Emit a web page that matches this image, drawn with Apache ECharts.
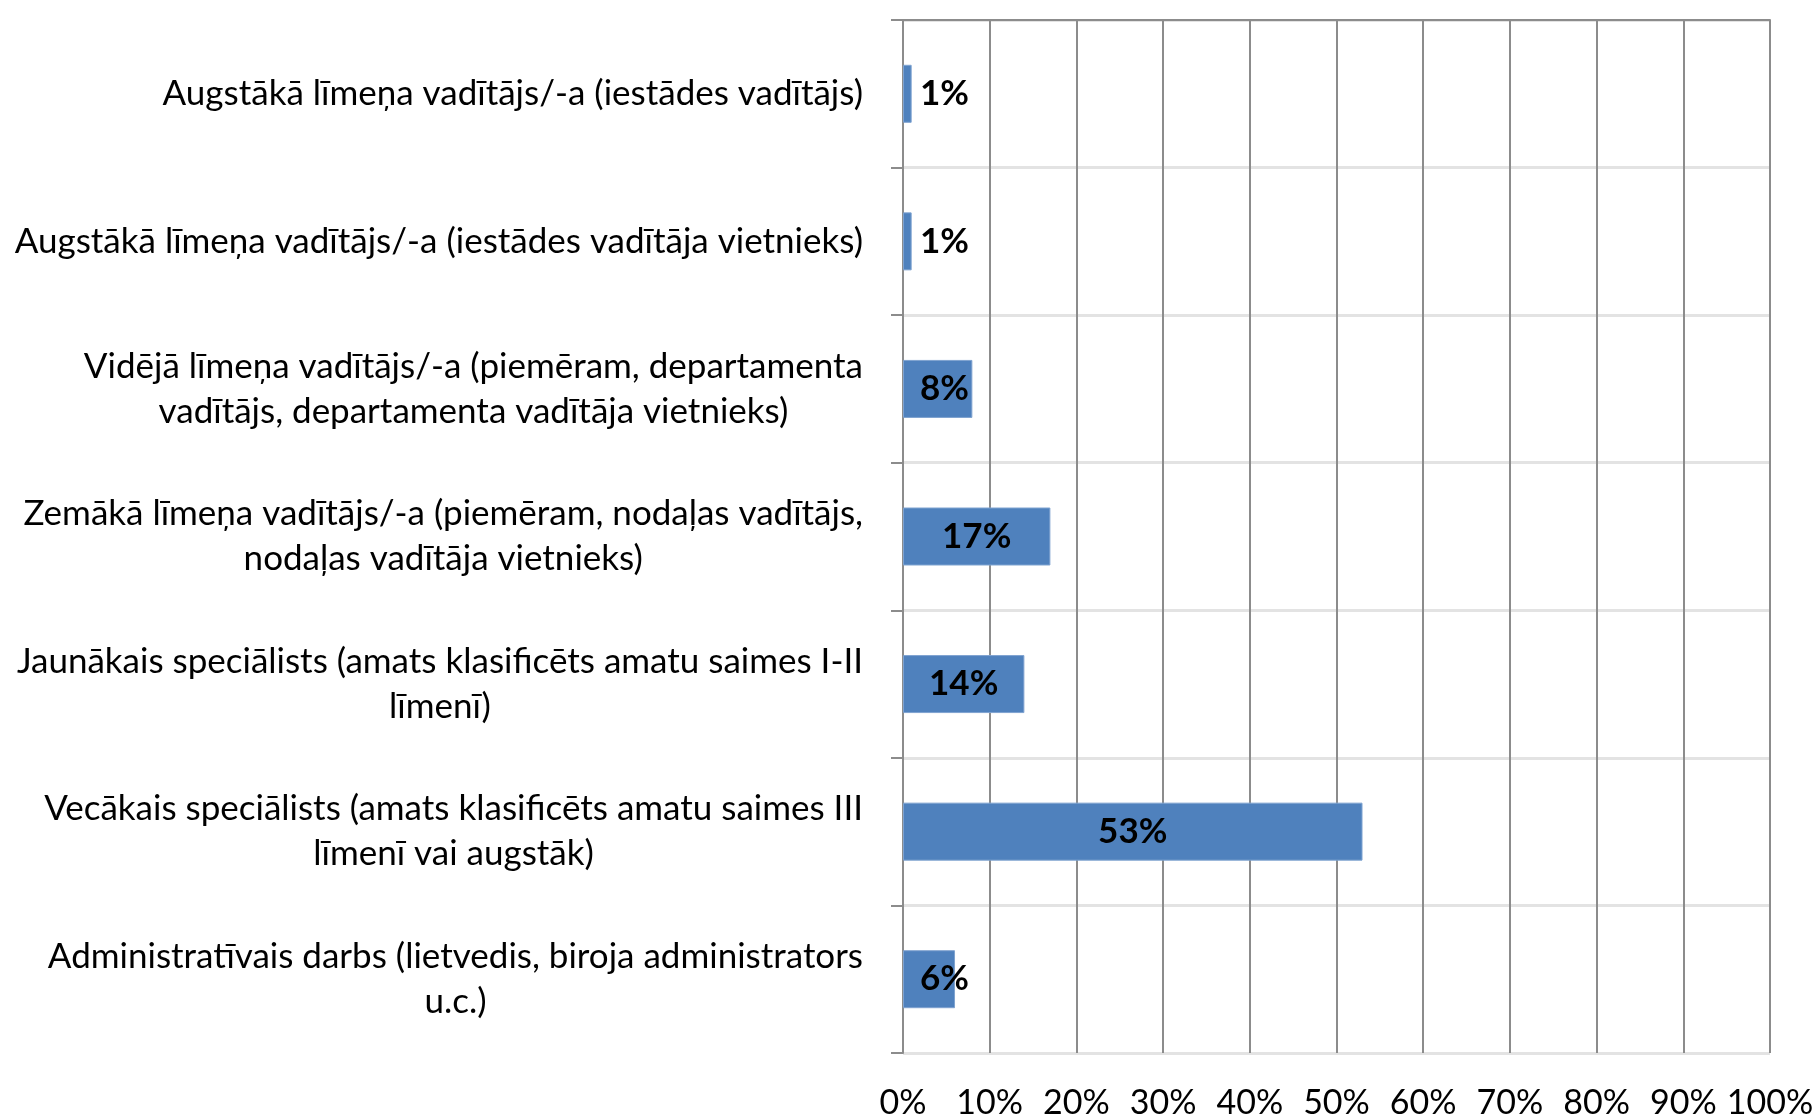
<!DOCTYPE html>
<html>
<head>
<meta charset="utf-8">
<script src="https://cdn.jsdelivr.net/npm/echarts@6/dist/echarts.min.js"></script>
<style>
  html, body { margin: 0; padding: 0; background: #fff; }
  #chart { width: 1818px; height: 1115px; }
</style>
</head>
<body>
<div id="chart"></div>
<script>
// amatu grupas (no augšas uz leju)
const categories = [
  'Augstākā līmeņa vadītājs/-a (iestādes vadītājs)',
  'Augstākā līmeņa vadītājs/-a (iestādes vadītāja vietnieks)',
  'Vidējā līmeņa vadītājs/-a (piemēram, departamenta\nvadītājs, departamenta vadītāja vietnieks)',
  'Zemākā līmeņa vadītājs/-a (piemēram, nodaļas vadītājs,\nnodaļas vadītāja vietnieks)',
  'Jaunākais speciālists (amats klasificēts amatu saimes I-II\nlīmenī)',
  'Vecākais speciālists (amats klasificēts amatu saimes III\nlīmenī vai augstāk)',
  'Administratīvais darbs (lietvedis, biroja administrators\nu.c.)'
]
const values = [1, 1, 8, 17, 14, 53, 6] // %
const xTicks = [0, 10, 20, 30, 40, 50, 60, 70, 80, 90, 100]

const FONT = 'Lato'
const chart = echarts.init(document.getElementById('chart'))

const option = {
  animation: false,
  grid: {
    left: 903,
    right: 48,
    top: 20,
    bottom: 62,
    containLabel: false,
    outerBoundsMode: 'none'
  },
  xAxis: [
    {
      type: 'value',
      min: xTicks[0],
      max: xTicks[xTicks.length - 1],
      interval: 10,
      axisLine: { show: false },
      axisTick: { show: false },
      axisLabel: {
        margin: 33,
        fontFamily: FONT,
        fontSize: 34,
        color: '#000',
        formatter: '{value}%'
      },
      splitLine: {
        show: true,
        lineStyle: { color: '#8c8c8c', width: 2 }
      }
    },
    {
      // augšējā mala
      type: 'value',
      position: 'top',
      min: 0,
      max: 100,
      z: 5,
      axisLine: { show: true, lineStyle: { color: '#8c8c8c', width: 2 } },
      axisTick: { show: false },
      axisLabel: { show: false },
      splitLine: { show: false }
    }
  ],
  yAxis: {
    type: 'category',
    inverse: true,
    data: categories,
    axisLine: { show: true, lineStyle: { color: '#8c8c8c', width: 2 } },
    axisTick: { show: true, length: 12, lineStyle: { color: '#8c8c8c', width: 2 } },
    splitLine: {
      show: true,
      interval: 0,
      lineStyle: { color: '#e3e3e3', width: 3 }
    },
    axisLabel: {
      interval: 0,
      margin: 40,
      align: 'right',
      color: '#000',
      fontFamily: FONT,
      fontSize: 35,
      lineHeight: 45,
      formatter: v => v.split('\n').map(s => '{c|' + s + '}').join('\n'),
      rich: {
        c: { align: 'center', fontFamily: FONT, fontSize: 35, lineHeight: 45, color: '#000' }
      }
    }
  },
  series: [
    {
      type: 'bar',
      barWidth: 58,
      itemStyle: { color: '#4f81bd', borderColor: '#7fa3d0', borderWidth: 1 },
      label: {
        show: true,
        position: 'inside',
        formatter: '{c}%',
        fontFamily: FONT,
        fontWeight: 'bold',
        fontSize: 35,
        color: '#000'
      },
      // īsajiem stabiņiem etiķete pie kreisās malas
      data: values.map(v => v < 10
        ? { value: v, label: { position: 'insideLeft', distance: 17 } }
        : v)
    }
  ]
}

chart.setOption(option)
window.onresize = () => { chart.resize() }
</script>
</body>
</html>
